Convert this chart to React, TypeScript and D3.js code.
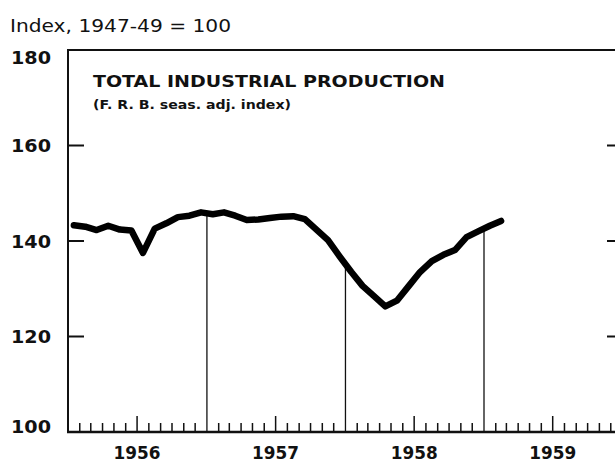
import React from 'react';
import * as d3 from 'd3';

// months (first of month) and F.R.B. index values
const months = [
  '1956-01', '1956-02', '1956-03', '1956-04', '1956-05', '1956-06',
  '1956-07', '1956-08', '1956-09', '1956-10', '1956-11', '1956-12',
  '1957-01', '1957-02', '1957-03', '1957-04', '1957-05', '1957-06',
  '1957-07', '1957-08', '1957-09', '1957-10', '1957-11', '1957-12',
  '1958-01', '1958-02', '1958-03', '1958-04', '1958-05', '1958-06',
  '1958-07', '1958-08', '1958-09', '1958-10', '1958-11', '1958-12',
  '1959-01', '1959-02'
];
const production = [
  143.3, 143.0, 142.3, 143.2, 142.4, 142.2, 137.5, 142.6, 143.7, 145.0, 145.3, 146.0,
  145.6, 146.0, 145.3, 144.4, 144.5, 144.8, 145.1, 145.2, 144.6, 142.4, 140.2, 136.8,
  133.5, 130.6, 128.5, 126.3, 127.5, 130.5, 133.5, 135.8, 137.1, 138.1, 140.8, 142.0,
  143.2, 144.2
];
const years = ['1956', '1957', '1958', '1959'];
const yTicks = [180, 160, 140, 120, 100];
const innerTicks = [160, 140, 120];

const W = 615;
const H = 464;
const FONT = '"DejaVu Sans", Verdana, sans-serif';

export default function App() {
  const parse = d3.timeParse('%Y-%m');
  const data = months.map((m, i) => {
    const d = parse(m) as Date;
    // plot at mid-month
    const mid = new Date(d.getTime() + (d3.timeMonth.offset(d, 1).getTime() - d.getTime()) / 2);
    return { date: d, mid, value: production[i] };
  });

  const x = d3
    .scaleTime()
    .domain([new Date(1956, 0, 1), new Date(1959, 0, 1)])
    .range([68, 484]);
  const y = d3.scaleLinear().domain([100, 180]).range([432, 50]);

  const line = d3
    .line<{ mid: Date; value: number }>()
    .x(d => x(d.mid))
    .y(d => y(d.value))
    .curve(d3.curveLinear);

  const yearStarts = years.map(yr => new Date(+yr, 0, 1));
  const monthTicks = d3.timeMonth.range(new Date(1956, 1, 1), new Date(1960, 0, 1));

  // y of the curve at a given date (linear between monthly points)
  const curveY = (date: Date) => {
    const t = x(date);
    for (let i = 0; i < data.length - 1; i++) {
      const a = x(data[i].mid);
      const b = x(data[i + 1].mid);
      if (t >= a && t <= b) {
        const k = (t - a) / (b - a);
        return y(data[i].value + k * (data[i + 1].value - data[i].value));
      }
    }
    return null;
  };

  const yearLines = yearStarts
    .slice(1)
    .map(d => ({ d, cy: curveY(d) }))
    .filter(v => v.cy !== null);

  return (
    <svg
      width={W}
      height={H}
      style={{ position: 'absolute', left: 0, top: 0, background: '#fff' }}
      fontFamily={FONT}
    >
      <rect x={0} y={0} width={W} height={H} fill="#fff" />

      <text x={10} y={32} fontSize={17} fill="#111" textLength={221} lengthAdjust="spacingAndGlyphs">
        Index, 1947-49 = 100
      </text>

      {/* frame */}
      <line x1={68} x2={W + 2} y1={y(180)} y2={y(180)} stroke="#111" strokeWidth={2} />
      <line x1={68} x2={68} y1={y(180) - 1} y2={y(100) + 1} stroke="#111" strokeWidth={2} />
      <line x1={67} x2={W + 2} y1={y(100)} y2={y(100)} stroke="#111" strokeWidth={2.5} />

      {/* y labels and ticks */}
      {yTicks.map(v => (
        <text
          key={v}
          x={11}
          y={y(v) + (v === 180 ? 14 : v === 100 ? 1 : 6.5)}
          fontSize={17}
          fontWeight="bold"
          fill="#111"
          textLength={40}
          lengthAdjust="spacingAndGlyphs"
        >
          {v}
        </text>
      ))}
      {innerTicks.map(v => (
        <g key={v}>
          <line x1={68} x2={84} y1={y(v)} y2={y(v)} stroke="#111" strokeWidth={2} />
          <line x1={607} x2={W} y1={y(v)} y2={y(v)} stroke="#111" strokeWidth={2} />
        </g>
      ))}

      {/* month ticks */}
      {monthTicks
        .filter(d => d.getMonth() !== 0)
        .map(d => (
          <line
            key={d.getTime()}
            x1={x(d)}
            x2={x(d)}
            y1={y(100)}
            y2={y(100) - (d.getMonth() === 6 ? 16 : 9)}
            stroke="#111"
            strokeWidth={1.5}
          />
        ))}
      {monthTicks
        .filter(d => d.getMonth() === 0 && curveY(d) === null)
        .map(d => (
          <line key={d.getTime()} x1={x(d)} x2={x(d)} y1={y(100)} y2={y(100) - 9} stroke="#111" strokeWidth={1.5} />
        ))}

      {/* year boundary lines up to curve */}
      {yearLines.map(v => (
        <line
          key={v.d.getTime()}
          x1={x(v.d)}
          x2={x(v.d)}
          y1={y(100)}
          y2={v.cy as number}
          stroke="#111"
          strokeWidth={1.3}
        />
      ))}

      {/* year labels */}
      {yearStarts.map((d, i) => (
        <text
          key={years[i]}
          x={x(d3.timeMonth.offset(d, 6))}
          y={459}
          textAnchor="middle"
          fontSize={18}
          fontWeight="bold"
          fill="#111"
          textLength={47}
          lengthAdjust="spacingAndGlyphs"
        >
          {years[i]}
        </text>
      ))}

      {/* title */}
      <text x={93} y={87} fontSize={16} fontWeight="bold" fill="#111" textLength={352} lengthAdjust="spacingAndGlyphs">
        TOTAL INDUSTRIAL PRODUCTION
      </text>
      <text x={93} y={109} fontSize={12} fontWeight="bold" fill="#111" textLength={198} lengthAdjust="spacingAndGlyphs">
        (F. R. B. seas. adj. index)
      </text>

      {/* series */}
      <path
        d={line(data) as string}
        fill="none"
        stroke="#000"
        strokeWidth={6.5}
        strokeLinejoin="round"
        strokeLinecap="round"
      />
    </svg>
  );
}
